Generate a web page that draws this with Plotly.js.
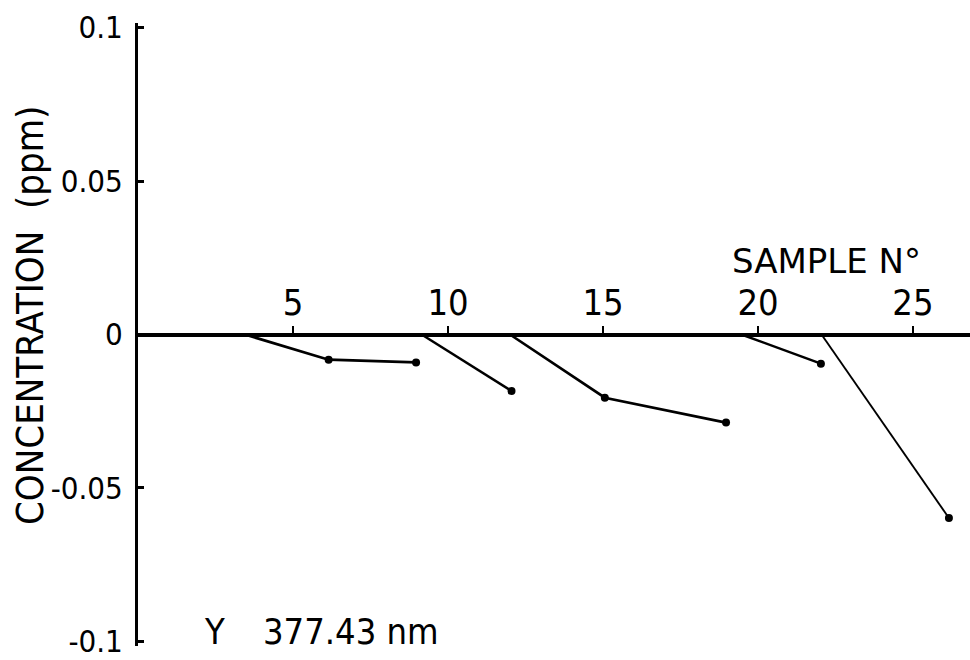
<!DOCTYPE html>
<html>
<head>
<meta charset="utf-8">
<script src="https://cdn.plot.ly/plotly-3.0.1.min.js"></script>
<style>html,body{margin:0;padding:0;background:#fff;}#chart{width:970px;height:660px;}</style>
</head>
<body>
<div id="chart"></div>
<script>
// Sample numbers and concentrations (ppm)
const seg1X = [3.45, 6.15, 8.97];
const seg1Y = [0, -0.0082, -0.0091];
const seg2X = [9.15, 12.05];
const seg2Y = [0, -0.0184];
const seg3X = [12.0, 15.06, 18.97];
const seg3Y = [0, -0.0206, -0.0287];
const seg4X = [19.47, 22.03];
const seg4Y = [0, -0.0095];
const seg5X = [22.05, 26.16];
const seg5Y = [0, -0.0598];

const xTickVals = [5, 10, 15, 20, 25];
const xTickText = ['5', '10', '15', '20', '25'];
const yTickVals = [0.1, 0.05, 0, -0.05, -0.1];
const yTickText = ['0.1', '0.05', '0', '-0.05', '-0.1'];

const FONT = '"DejaVu Sans Condensed", "DejaVu Sans", sans-serif';
const NARROW = '"Liberation Sans Narrow", "DejaVu Sans Condensed", sans-serif';
const WIDE = '"DejaVu Sans", sans-serif';
const segs = [[seg1X, seg1Y, 2.7], [seg2X, seg2Y, 2.5], [seg3X, seg3Y, 2.7], [seg4X, seg4Y, 2.5], [seg5X, seg5Y, 1.9]];

const traces = [];
segs.forEach(([xs, ys, w]) => {
  traces.push({x: xs, y: ys, mode: 'lines', line: {color: '#000', width: w}, hoverinfo: 'x+y', showlegend: false});
  traces.push({x: xs.slice(1), y: ys.slice(1), mode: 'markers', marker: {color: '#000', size: 8}, hoverinfo: 'x+y', showlegend: false});
});

const layout = {
  width: 970, height: 660,
  margin: {l: 138, r: 0, t: 23, b: 14},
  paper_bgcolor: '#fff', plot_bgcolor: '#fff',
  font: {family: FONT, color: '#000', size: 32},
  showlegend: false,
  xaxis: {
    range: [0, 26.84], anchor: 'free', position: 0.5, side: 'top',
    showline: true, linecolor: '#000', linewidth: 3.5,
    showgrid: false, zeroline: false,
    ticks: 'outside', ticklen: 7, tickwidth: 2, tickcolor: '#000',
    tickvals: xTickVals, ticktext: xTickText, ticklabelstandoff: -4,
    tickfont: {family: NARROW, size: 36, color: '#000'}
  },
  yaxis: {
    range: [-0.1015, 0.1015],
    showline: true, linecolor: '#000', linewidth: 3,
    showgrid: false, zeroline: false,
    ticks: 'inside', ticklen: 6, tickwidth: 2.5, tickcolor: '#000',
    tickvals: yTickVals, ticktext: yTickText, ticklabelstandoff: 6,
    ticklabeloverflow: 'allow',
    tickfont: {family: NARROW, size: 31, color: '#000'}
  },
  annotations: [
    {text: 'SAMPLE N°', xref: 'paper', yref: 'paper', x: 0.827, y: 0.618, xanchor: 'center', yanchor: 'middle', showarrow: false, font: {family: WIDE, size: 34, color: '#000'}},
    {text: 'Y', xref: 'paper', yref: 'paper', x: 0.0925, y: 0.0225, xanchor: 'center', yanchor: 'middle', showarrow: false, font: {family: FONT, size: 36, color: '#000'}},
    {text: '377.43 nm', xref: 'paper', yref: 'paper', x: 0.256, y: 0.0225, xanchor: 'center', yanchor: 'middle', showarrow: false, font: {family: FONT, size: 36, color: '#000'}},
    {text: 'CONCENTRATION\u00a0\u00a0(ppm)', xref: 'paper', yref: 'paper', x: -0.13, y: 0.531, xanchor: 'center', yanchor: 'middle', textangle: -90, showarrow: false, font: {family: FONT, size: 38, color: '#000'}}
  ]
};

Plotly.newPlot('chart', traces, layout, {displayModeBar: false});
</script>
</body>
</html>
